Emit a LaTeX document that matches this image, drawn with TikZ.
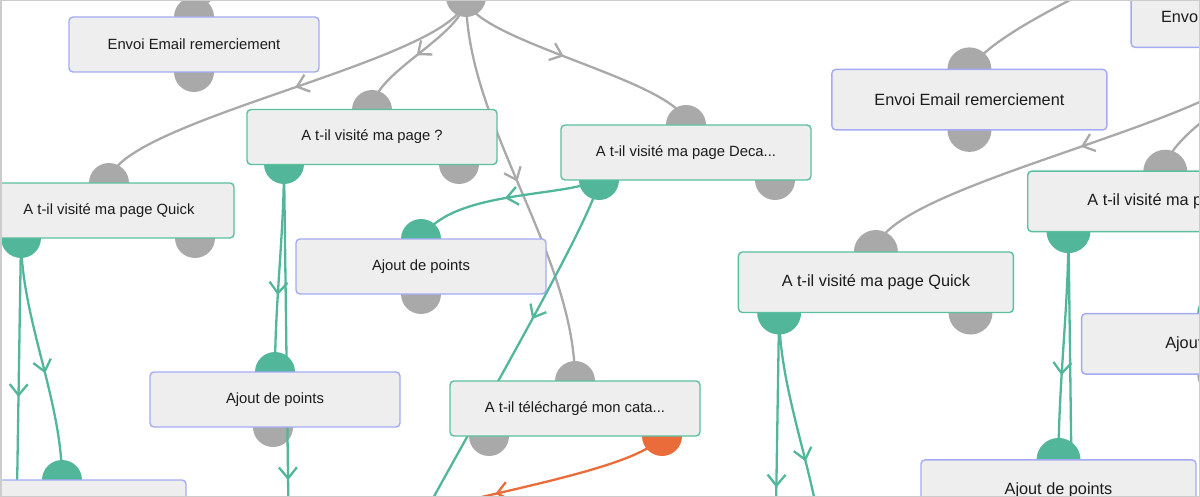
\documentclass[tikz,border=0pt]{standalone}
\usepackage{fontspec}
\setmainfont{Liberation Sans}
\usetikzlibrary{arrows.meta,decorations.markings}
\definecolor{cgray}{HTML}{A9A9A9}
\definecolor{cgreen}{HTML}{52B69A}
\definecolor{corange}{HTML}{EA6C3A}
\definecolor{cblue}{HTML}{A4ABF3}
\definecolor{cgreenb}{HTML}{5CBF9F}
\definecolor{boxfill}{HTML}{EEEEEE}
\definecolor{textc}{HTML}{1C1C1C}
\definecolor{cframe}{HTML}{CCCCCC}
\tikzset{
  flowbox/.style={draw=#1, fill=boxfill, rounded corners=4pt, line width=1.4pt,
    minimum width=250pt, minimum height=55pt, inner sep=0pt,
    font=\fontsize{14.8}{17}\selectfont, text=textc},
  lbl/.style={inner sep=0pt, font=\fontsize{14.8}{17}\selectfont, text=textc},
  link/.style={draw=#1, line width=2.3pt},
  arrowat/.style={postaction={decorate}, decoration={markings,
    mark=at position #1 with {\arrow{Straight Barb[length=11pt,width=18pt]}}}},
}
\newcommand\flowpart[1]{%
  % port positions
  \coordinate (#1o0) at (466,-3);
  \coordinate (#1i1) at (194,17);   \coordinate (#1o1) at (194,72);
  \coordinate (#1i3) at (372,110);  \coordinate (#1l3) at (284,164);  \coordinate (#1r3) at (459,164);
  \coordinate (#1i4) at (109,183);  \coordinate (#1l4) at (21,238);   \coordinate (#1r4) at (195,238);
  \coordinate (#1i5) at (686,125);  \coordinate (#1l5) at (599,180);  \coordinate (#1r5) at (775,180);
  \coordinate (#1i6) at (421,239);  \coordinate (#1o6) at (421,294);
  \coordinate (#1i7) at (275,372);  \coordinate (#1o7) at (273,427);
  \coordinate (#1i8) at (575,381);  \coordinate (#1l8) at (489,436);  \coordinate (#1r8) at (662,436);
  \coordinate (#1i9) at (62,480);
  % far ends
  \coordinate (#1x1) at (16,556);
  \coordinate (#1x2) at (292,784);
  \coordinate (#1x3) at (400,560);
  \coordinate (#1x4) at (370,525);
  \coordinate (#1x5) at (420,-110);
  % ports
  \foreach \p in {o0,i1,o1,i3,r3,i4,r4,i5,r5,o6,o7,i8,l8}{\fill[cgray] (#1\p) circle[radius=20];}
  \foreach \p in {l3,l4,l5,i6,i7,i9}{\fill[cgreen] (#1\p) circle[radius=20];}
  \fill[corange] (#1r8) circle[radius=20];
  % connectors
  \draw[link=cgray, arrowat=0.25] (#1x5) .. controls +(-120,55) and +(21,-32) .. (#1i1);
  \draw[link=cgray, arrowat=0.48] (#1o0) .. controls +(0,62) and +(0,-62) .. (#1i4);
  \draw[link=cgray, arrowat=0.52] (#1o0) .. controls +(0,38) and +(0,-38) .. (#1i3);
  \draw[link=cgray, arrowat=0.48] (#1o0) .. controls +(0,128) and +(0,-128) .. (#1i8);
  \draw[link=cgray, arrowat=0.45] (#1o0) .. controls +(0,43) and +(0,-43) .. (#1i5);
  \draw[link=cgreen, arrowat=0.56] (#1l4) .. controls +(0,80) and +(0,-80) .. (#1i9);
  \draw[link=cgreen, arrowat=0.5] (#1l4) -- (#1x1);
  \draw[link=cgreen, arrowat=0.63] (#1l3) .. controls +(0,70) and +(0,-70) .. (#1i7);
  \draw[link=cgreen, arrowat=0.51] (#1l3) -- (#1x2);
  \draw[link=cgreen, arrowat=0.5] (#1l5) .. controls +(-39,18) and +(29,-49) .. (#1i6);
  \draw[link=cgreen, arrowat=0.36] (#1l5) .. controls +(-5,40) and +(40,-80) .. (#1x3);
  \draw[link=corange, arrowat=0.58] (#1r8) .. controls +(-22,34) and +(100,-30) .. (#1x4);
  % boxes
  \node[flowbox=cblue] (#1b0) at (466,-30.5) {};
  \node[lbl, anchor=west] (#1t0) at (368,-30.5) {Envoi};
  \node[flowbox=cblue] (#1b1) at (194,44.5) {Envoi Email remerciement};
  \node[flowbox=cgreenb] (#1b3) at (372,137) {A t-il visité ma page ?};
  \node[flowbox=cgreenb] (#1b4) at (109,210.5) {A t-il visité ma page Quick};
  \node[flowbox=cgreenb] (#1b5) at (686,152.5) {A t-il visité ma page Deca...};
  \node[flowbox=cblue] (#1b6) at (421,266.5) {Ajout de points};
  \node[flowbox=cblue] (#1b7) at (275,399.5) {Ajout de points};
  \node[flowbox=cgreenb] (#1b8) at (575,408.5) {A t-il téléchargé mon cata...};
  \node[flowbox=cblue] (#1b9) at (61,507.5) {};
}
\begin{document}
\begin{tikzpicture}[x=1pt,y=-1pt]
\useasboundingbox (0,0) rectangle (1200,497);
\begin{scope}
  \clip (0,0) rectangle (1200,497);
  \begin{scope}
    \flowpart{L}
  \end{scope}
  \begin{scope}[shift={(756,50.7)}, scale=1.1, transform shape]
    \flowpart{R}
  \end{scope}
\end{scope}
\draw[cframe, line width=1.5pt] (0.75,0.75) rectangle (1199.25,496.25);
\end{tikzpicture}
\end{document}
